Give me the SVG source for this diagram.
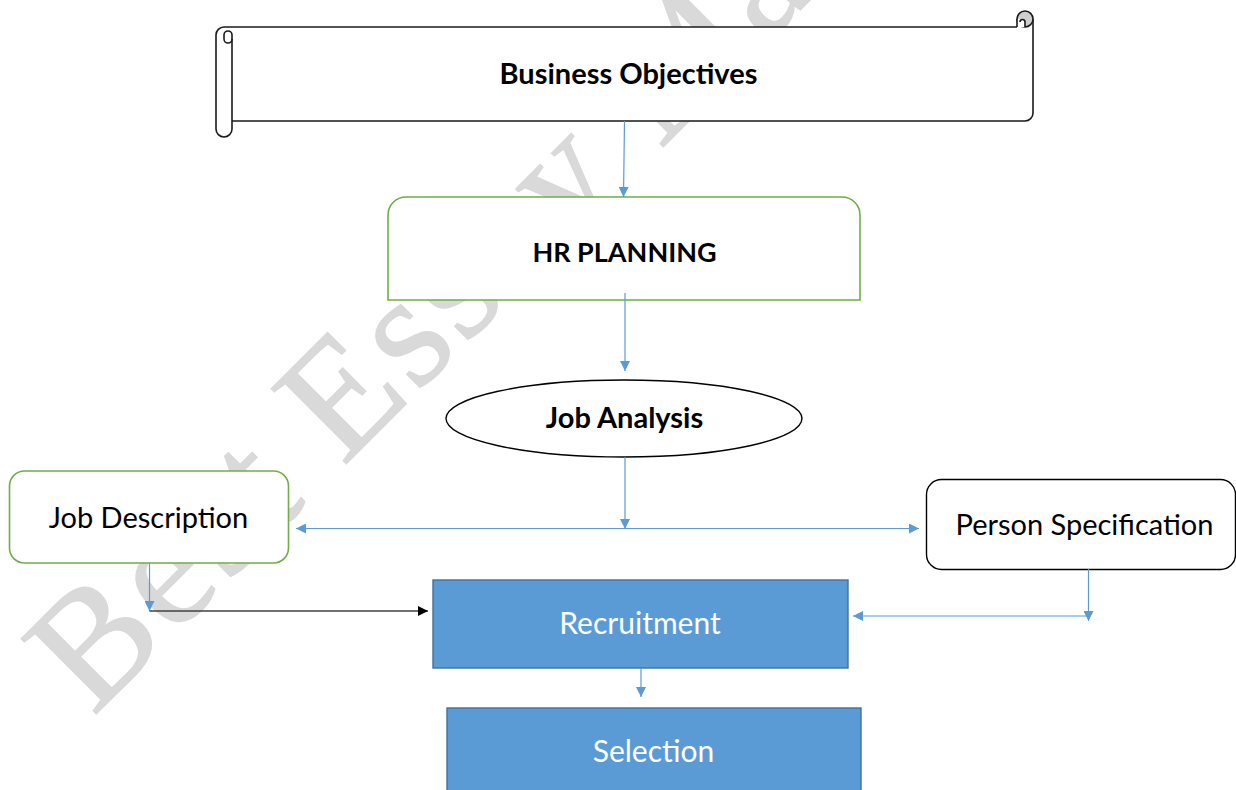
<svg xmlns="http://www.w3.org/2000/svg" width="1236" height="790" viewBox="0 0 1236 790">
  <style>
    .wm { font-family: "Liberation Serif", "Times New Roman", serif; font-size: 162px; fill: #d9d9d9; stroke: #d9d9d9; stroke-width: 1.5; letter-spacing: 5px; }
    .lbl { font-family: Lato, "Liberation Sans", sans-serif; text-anchor: middle; }
    .bold { font-weight: 700; font-size: 29px; fill: #000; }
    .reg { font-weight: 400; font-size: 29px; fill: #000; }
    .inv { fill: #ffffff; }
    .line { fill: none; stroke: #1a1a1a; stroke-width: 1.6; stroke-linejoin: round; }
    .green { fill: #ffffff; stroke: #70ad47; stroke-width: 1.6; }
    .dark { fill: #ffffff; stroke: #000000; stroke-width: 1.4; }
    .blue { fill: #5b9bd5; stroke: #41719c; stroke-width: 1.4; }
    .conn { fill: none; stroke: #5b9bd5; stroke-width: 1.2; }
    .connk { fill: none; stroke: #404040; stroke-width: 1.6; }
  </style>
  <defs>
    <marker id="ab" viewBox="0 0 10 10" refX="10" refY="5" markerWidth="10" markerHeight="10" markerUnits="userSpaceOnUse" orient="auto-start-reverse">
      <path d="M0,0 L10,5 L0,10 Z" fill="#5b9bd5"/>
    </marker>
    <marker id="ak" viewBox="0 0 10 10" refX="10" refY="5" markerWidth="10" markerHeight="10" markerUnits="userSpaceOnUse" orient="auto">
      <path d="M0,0 L10,5 L0,10 Z" fill="#000000"/>
    </marker>
  </defs>

  <rect width="1236" height="790" fill="#ffffff"/>

  <!-- background watermark -->
  <text class="wm" x="93" y="717" transform="rotate(-45 93 717)">Best Essay Ma</text>

  <!-- scroll banner -->
  <g id="business-objectives">
    <path d="M216 35 A8 8 0 0 1 224 27 H1017 V19 A8 8 0 0 1 1033 19 V113 A8 8 0 0 1 1025 121 H232 V129 A8 8 0 0 1 216 129 Z" fill="#ffffff"/>
    <path class="line" d="M224 27 H1017"/>
    <path class="line" d="M1033 19 V113 A8 8 0 0 1 1025 121 H232"/>
    <path class="line" d="M224 27 A8 8 0 0 0 216 35 V129 A8 8 0 0 0 232 129 V35"/>
    <path class="line" d="M232 35 A4 4 0 0 0 224 35 L224 39 A4 4 0 0 0 232 39" fill="#d0d0d0"/>
    <circle cx="1025" cy="19" r="8" fill="#d0d0d0" stroke="#1a1a1a" stroke-width="1.6"/>
    <path d="M1017 19 H1025 V27 H1017 Z" fill="#ffffff"/>
    <path class="line" d="M1017 19 V27"/>
    <path class="line" d="M1025 27 V22 A2.5 2.5 0 0 0 1020 22"/>
    <text class="lbl bold" x="628.5" y="84">Business Objectives</text>
  </g>

  <g id="hr-planning">
    <path class="green" d="M388 300 V215 A18 18 0 0 1 406 197 H842 A18 18 0 0 1 860 215 V300 Z"/>
    <text class="lbl bold" x="624.5" y="261.5" style="font-size:27px">HR PLANNING</text>
  </g>

  <g id="job-analysis">
    <ellipse class="dark" cx="624" cy="418.5" rx="178" ry="38.5"/>
    <text class="lbl bold" x="624.5" y="428">Job Analysis</text>
  </g>

  <g id="job-description">
    <rect class="green" x="9.5" y="471" width="279" height="92" rx="15" ry="15"/>
    <text class="lbl reg" x="148.5" y="527.5">Job Description</text>
  </g>

  <g id="person-specification">
    <rect class="dark" x="926.5" y="479.5" width="309" height="90" rx="15" ry="15"/>
    <text class="lbl reg" x="1084.5" y="535">Person Specification</text>
  </g>

  <g id="recruitment">
    <rect class="blue" x="433" y="580" width="415" height="88"/>
    <text class="lbl reg inv" x="640" y="634" style="font-size:30px">Recruitment</text>
  </g>

  <g id="selection">
    <rect class="blue" x="447" y="708" width="414" height="100"/>
    <text class="lbl reg inv" x="653.5" y="761.5" style="font-size:30px">Selection</text>
  </g>

  <g id="connectors">
    <path class="conn" d="M624.5 121 L623.5 197" marker-end="url(#ab)"/>
    <path class="conn" d="M625 293 V371" marker-end="url(#ab)"/>
    <path class="conn" d="M625 457 V529" marker-end="url(#ab)"/>
    <path class="conn" d="M296 528.5 H919" marker-start="url(#ab)" marker-end="url(#ab)"/>
    <path class="conn" d="M149.5 563 V611" marker-end="url(#ab)"/>
    <path class="connk" d="M149.5 611 H428" marker-end="url(#ak)"/>
    <path class="conn" d="M1088.5 569 V621" marker-end="url(#ab)"/>
    <path class="conn" d="M1088.5 616 H853" marker-end="url(#ab)"/>
    <path class="conn" d="M641 668 V697" marker-end="url(#ab)"/>
  </g>
</svg>
